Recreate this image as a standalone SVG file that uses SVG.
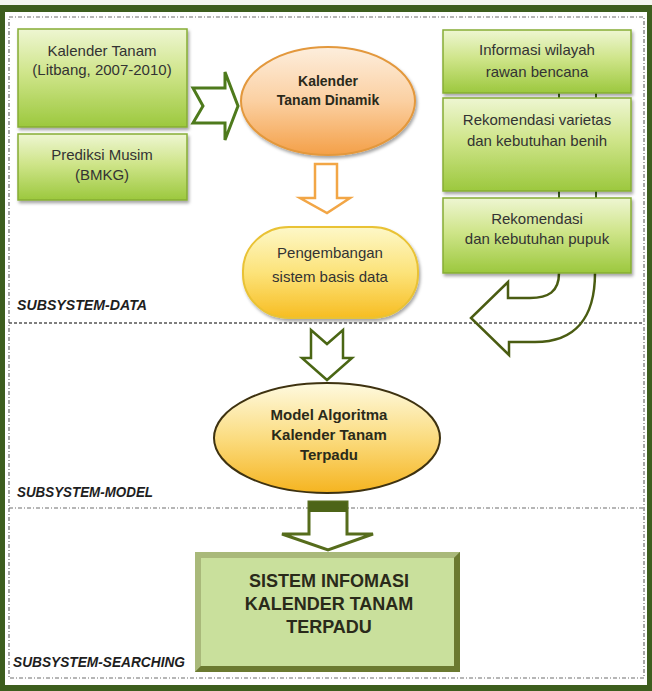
<svg xmlns="http://www.w3.org/2000/svg" width="652" height="691" viewBox="0 0 652 691">
<defs>
<style>
.t{font-family:"Liberation Sans",Arial,sans-serif;font-size:15px;fill:#333;text-anchor:middle}
.b{font-family:"Liberation Sans",Arial,sans-serif;font-weight:bold;fill:#2a2a1a;text-anchor:middle}
.lbl{font-family:"Liberation Sans",Arial,sans-serif;font-weight:bold;font-style:italic;font-size:14px;fill:#1e1e1e}
.gbox{fill:url(#gGreen);stroke:#86ad34;stroke-width:1.5;filter:url(#sh)}
.dot{fill:none;stroke:#6e6e6e;stroke-width:1.2;stroke-dasharray:4 2 1 2}
</style>
<linearGradient id="gGreen" x1="0" y1="0" x2="0" y2="1">
<stop offset="0" stop-color="#eef6d2"/><stop offset="0.45" stop-color="#cfe58a"/><stop offset="1" stop-color="#9cc83e"/>
</linearGradient>
<linearGradient id="gOrange" x1="0" y1="0" x2="0" y2="1">
<stop offset="0" stop-color="#fdeedd"/><stop offset="0.5" stop-color="#fbd0a2"/><stop offset="1" stop-color="#f4a048"/>
</linearGradient>
<linearGradient id="gYellow" x1="0" y1="0" x2="0" y2="1">
<stop offset="0" stop-color="#fdf8c8"/><stop offset="0.5" stop-color="#fce37a"/><stop offset="1" stop-color="#f7bd22"/>
</linearGradient>
<linearGradient id="gModel" x1="0" y1="0" x2="0" y2="1">
<stop offset="0" stop-color="#fefae0"/><stop offset="0.5" stop-color="#fbdc80"/><stop offset="1" stop-color="#f5b420"/>
</linearGradient>
<filter id="sh" x="-10%" y="-10%" width="130%" height="140%">
<feDropShadow dx="1.5" dy="2.5" stdDeviation="1.5" flood-color="#000" flood-opacity="0.35"/>
</filter>
</defs>

<g id="frame">
<rect x="0" y="0" width="652" height="691" fill="#f4f6f0"/>
<rect x="0" y="5" width="652" height="686" fill="#3d5e1e"/>
<rect x="5" y="12" width="642" height="673" fill="#ffffff"/>
<rect x="9" y="17" width="635" height="661" class="dot"/>
<line x1="9" y1="323" x2="644" y2="323" stroke="#555" stroke-width="1.3" stroke-dasharray="3 2"/>
<line x1="9" y1="508" x2="644" y2="508" class="dot"/>
<text class="lbl" x="17" y="310" textLength="130" lengthAdjust="spacingAndGlyphs">SUBSYSTEM-DATA</text>
<text class="lbl" x="17" y="497" textLength="136" lengthAdjust="spacingAndGlyphs">SUBSYSTEM-MODEL</text>
<text class="lbl" x="13" y="667" textLength="172" lengthAdjust="spacingAndGlyphs">SUBSYSTEM-SEARCHING</text>
</g>

<g id="connectors">
<polygon points="193,88 225,88 225,72 238,106 225,140 225,123 193,123 203,106" fill="#fff" stroke="#4e7a1c" stroke-width="3" stroke-linejoin="miter"/>
<polygon points="315,164 337,164 337,198 350,198 327,213 300,198 315,198" fill="#fff" stroke="#f2a646" stroke-width="2.5"/>
<polygon points="311,330 327,344 343,330 343,358 352,358 327,380 302,358 311,358" fill="#fff" stroke="#4a6614" stroke-width="2.5"/>
<polygon points="309,502 347,502 347,534 373,534 328,550 282,534 309,534" fill="#fff" stroke="#566c1c" stroke-width="3"/>
<rect x="309" y="502" width="38" height="10" fill="#4d6418"/>
<path d="M559,273 C559,292 548,298 530,298 L508,298 L508,282 L471,318 L509,355 L509,342 L535,342 C575,342 595,318 595,273" fill="none" stroke="#4a5c12" stroke-width="2.5" stroke-linejoin="miter"/>
<line x1="559" y1="93" x2="559" y2="98" stroke="#3d5e1e" stroke-width="2"/>
<line x1="596" y1="93" x2="596" y2="98" stroke="#3d5e1e" stroke-width="2"/>
<line x1="559" y1="191" x2="559" y2="198" stroke="#3d5e1e" stroke-width="2"/>
<line x1="596" y1="191" x2="596" y2="198" stroke="#3d5e1e" stroke-width="2"/>
</g>

<g id="n-kalender-tanam">
<rect class="gbox" x="18" y="29" width="169" height="98"/>
<text class="t" x="102" y="56">Kalender Tanam</text>
<text class="t" x="102" y="75">(Litbang, 2007-2010)</text>
</g>
<g id="n-prediksi-musim">
<rect class="gbox" x="18" y="134" width="169" height="66"/>
<text class="t" x="102" y="160">Prediksi Musim</text>
<text class="t" x="102" y="180">(BMKG)</text>
</g>
<g id="n-informasi">
<rect class="gbox" x="443" y="30" width="188" height="63"/>
<text class="t" x="537" y="55">Informasi wilayah</text>
<text class="t" x="537" y="77">rawan bencana</text>
</g>
<g id="n-varietas">
<rect class="gbox" x="443" y="98" width="188" height="93"/>
<text class="t" x="537" y="125">Rekomendasi varietas</text>
<text class="t" x="537" y="146">dan kebutuhan benih</text>
</g>
<g id="n-pupuk">
<rect class="gbox" x="443" y="198" width="188" height="75"/>
<text class="t" x="537" y="224">Rekomendasi</text>
<text class="t" x="537" y="244">dan kebutuhan pupuk</text>
</g>
<g id="n-kalender-dinamik">
<ellipse cx="328" cy="101" rx="87" ry="54" fill="url(#gOrange)" stroke="#e3983c" stroke-width="2" filter="url(#sh)"/>
<text class="b" x="328" y="86" font-size="14">Kalender</text>
<text class="b" x="328" y="105" font-size="14">Tanam Dinamik</text>
</g>
<g id="n-pengembangan">
<rect x="243" y="227" width="175" height="91" rx="46" ry="44" fill="url(#gYellow)" stroke="#e9c234" stroke-width="2" filter="url(#sh)"/>
<text class="t" x="330" y="258" font-size="16">Pengembangan</text>
<text class="t" x="330" y="282" font-size="16">sistem basis data</text>
</g>
<g id="n-model">
<ellipse cx="327" cy="438" rx="113" ry="55" fill="url(#gModel)" stroke="#3e3210" stroke-width="2"/>
<text class="b" x="329" y="420" font-size="15">Model Algoritma</text>
<text class="b" x="329" y="440" font-size="15">Kalender Tanam</text>
<text class="b" x="329" y="460" font-size="15">Terpadu</text>
</g>
<g id="n-sistem">
<rect x="195" y="552" width="265" height="120" fill="#7d8c44"/>
<polygon points="195,552 460,552 454,558 201,558 201,666 195,672" fill="#a9b97a"/>
<polygon points="460,552 460,672 195,672 201,666 454,666 454,558" fill="#6b7a30"/>
<rect x="201" y="558" width="253" height="108" fill="#c9e09c"/>
<text class="b" x="329" y="587" font-size="18">SISTEM INFOMASI</text>
<text class="b" x="329" y="610" font-size="18">KALENDER TANAM</text>
<text class="b" x="329" y="633" font-size="18">TERPADU</text>
</g>
</svg>
